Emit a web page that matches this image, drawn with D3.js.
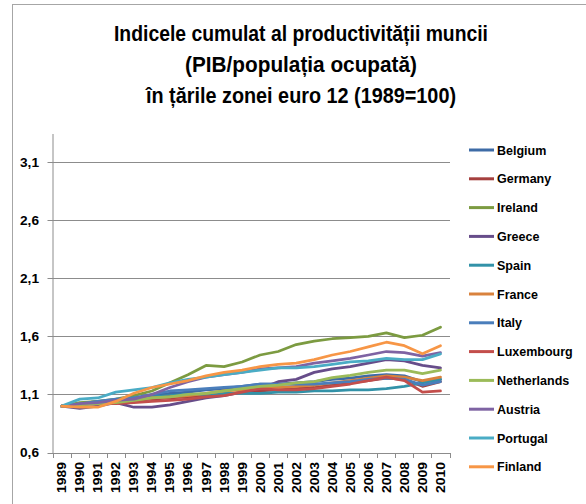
<!doctype html>
<html lang="ro">
<head>
<meta charset="UTF-8">
<title>Indicele cumulat al productivitatii muncii</title>
<style>
  body { margin: 0; background: #fff; }
  svg text { font-family: "Liberation Sans", Arial, sans-serif; font-weight: bold; fill: #000; }
</style>
</head>
<body>
<div class="canvas">
  <svg width="586" height="504"></svg>
</div>
<script src="https://d3js.org/d3.v7.min.js"></script>
<script>
// --- data (1989 = 1) ---
const years = ['1989','1990','1991','1992','1993','1994','1995','1996','1997','1998','1999',
               '2000','2001','2002','2003','2004','2005','2006','2007','2008','2009','2010'];
const yTicks = [0.6, 1.1, 1.6, 2.1, 2.6, 3.1];

const countries = ['Belgium','Germany','Ireland','Greece','Spain','France',
                   'Italy','Luxembourg','Netherlands','Austria','Portugal','Finland'];
const colors = ['#3D6BA6','#A5403E','#7C9B41','#674D8A','#3292A8','#D9823D',
                '#4A7EBB','#C34E4B','#9BBB59','#7E63A3','#4AACC5','#F79646'];

const belgium     = [1.0,1.02,1.04,1.05,1.06,1.09,1.11,1.12,1.14,1.15,1.17,1.19,1.19,1.20,1.21,1.23,1.24,1.26,1.27,1.26,1.21,1.23];
const germany     = [1.0,1.01,1.03,1.04,1.05,1.06,1.07,1.08,1.09,1.10,1.12,1.13,1.14,1.15,1.16,1.18,1.20,1.22,1.24,1.23,1.17,1.21];
const ireland     = [1.0,1.03,1.04,1.06,1.09,1.13,1.20,1.27,1.35,1.34,1.38,1.44,1.47,1.53,1.56,1.58,1.59,1.60,1.63,1.59,1.61,1.68];
const greece      = [1.0,0.98,1.00,1.03,0.99,0.99,1.01,1.04,1.07,1.09,1.12,1.15,1.21,1.23,1.29,1.32,1.34,1.37,1.40,1.39,1.35,1.33];
const spain       = [1.0,1.02,1.03,1.05,1.07,1.08,1.09,1.10,1.10,1.11,1.11,1.11,1.12,1.12,1.13,1.13,1.14,1.14,1.15,1.17,1.20,1.23];
const france      = [1.0,1.02,1.03,1.04,1.05,1.07,1.08,1.09,1.11,1.13,1.14,1.16,1.16,1.17,1.18,1.20,1.22,1.24,1.26,1.25,1.22,1.25];
const italy       = [1.0,1.02,1.04,1.06,1.07,1.10,1.13,1.14,1.15,1.16,1.17,1.19,1.19,1.19,1.19,1.20,1.21,1.23,1.24,1.23,1.18,1.21];
const luxembourg  = [1.0,1.01,1.02,1.02,1.03,1.04,1.05,1.06,1.08,1.09,1.12,1.15,1.14,1.14,1.15,1.17,1.19,1.22,1.25,1.22,1.12,1.13];
const netherlands = [1.0,1.01,1.02,1.03,1.05,1.07,1.08,1.10,1.11,1.13,1.15,1.17,1.18,1.20,1.21,1.245,1.265,1.29,1.31,1.31,1.28,1.31];
const austria     = [1.0,1.02,1.03,1.05,1.06,1.10,1.16,1.21,1.25,1.27,1.29,1.32,1.33,1.34,1.37,1.39,1.41,1.44,1.47,1.46,1.43,1.46];
const portugal    = [1.0,1.06,1.07,1.12,1.14,1.16,1.20,1.23,1.25,1.27,1.29,1.31,1.33,1.33,1.34,1.36,1.38,1.39,1.41,1.40,1.40,1.45];
const finland     = [1.0,0.99,0.99,1.04,1.11,1.16,1.19,1.22,1.26,1.29,1.31,1.34,1.36,1.37,1.40,1.44,1.47,1.51,1.55,1.52,1.45,1.52];

const seriesValues = [belgium, germany, ireland, greece, spain, france,
                      italy, luxembourg, netherlands, austria, portugal, finland];

const svg = d3.select('.canvas svg');

// chart frame
svg.append('rect')
    .attr('x', 12.5).attr('y', 4.5)
    .attr('width', 600).attr('height', 520)
    .attr('fill', '#fff')
    .attr('stroke', '#a6a6a6')
    .attr('stroke-width', 1);

// title
const titleLines = [
    { t: 'Indicele cumulat al productivității muncii', y: 41, w: 374 },
    { t: '(PIB/populația ocupată)', y: 72, w: 232 },
    { t: 'în țările zonei euro 12 (1989=100)', y: 103, w: 310 }
];
svg.append('g').selectAll('text')
    .data(titleLines)
    .join('text')
    .attr('x', 301)
    .attr('y', d => d.y)
    .attr('text-anchor', 'middle')
    .attr('font-size', 21.5)
    .attr('textLength', d => d.w)
    .attr('lengthAdjust', 'spacingAndGlyphs')
    .text(d => d.t);

// scales
const x = d3.scaleBand()
    .domain(years)
    .range([52.7, 449.5]);

const y = d3.scaleLinear()
    .domain([0.6, 3.1])
    .range([452.5, 162.3]);

// gridlines
svg.append('g').selectAll('line')
    .data(yTicks)
    .join('line')
    .attr('x1', 47.5)
    .attr('x2', 450)
    .attr('y1', d => Math.round(y(d)) + 0.5)
    .attr('y2', d => Math.round(y(d)) + 0.5)
    .attr('stroke', '#8c8c8c')
    .attr('stroke-width', 1);

// y axis line
svg.append('line')
    .attr('x1', 53).attr('x2', 53)
    .attr('y1', 134).attr('y2', 453)
    .attr('stroke', '#8c8c8c');

// y labels
svg.append('g').selectAll('text')
    .data(yTicks)
    .join('text')
    .attr('x', 39)
    .attr('y', d => y(d) + 4.5)
    .attr('text-anchor', 'end')
    .attr('font-size', 12)
    .attr('textLength', 19)
    .attr('lengthAdjust', 'spacingAndGlyphs')
    .text(d => d3.format('.1f')(d).replace('.', ','));

// x ticks at category boundaries
const bounds = years.map(v => x(v)).concat([x(years[years.length - 1]) + x.bandwidth()]);
svg.append('g').selectAll('line')
    .data(bounds)
    .join('line')
    .attr('x1', d => Math.round(d) + 0.5)
    .attr('x2', d => Math.round(d) + 0.5)
    .attr('y1', 453)
    .attr('y2', 458)
    .attr('stroke', '#8c8c8c');

// x labels (rotated)
svg.append('g').selectAll('text')
    .data(years)
    .join('text')
    .attr('transform', d => `translate(${x(d) + x.bandwidth() / 2 + 4.5},462) rotate(-90)`)
    .attr('text-anchor', 'end')
    .attr('font-size', 12)
    .attr('textLength', 31)
    .attr('lengthAdjust', 'spacingAndGlyphs')
    .text(d => d);

// series lines
const line = d3.line()
    .x((d, i) => x(years[i]) + x.bandwidth() / 2)
    .y(d => y(d));

svg.append('g').selectAll('path')
    .data(seriesValues)
    .join('path')
    .attr('d', line)
    .attr('fill', 'none')
    .attr('stroke', (d, i) => colors[i])
    .attr('stroke-width', 2.75)
    .attr('stroke-linejoin', 'round')
    .attr('stroke-linecap', 'round');

// legend
const legend = svg.append('g').selectAll('g')
    .data(countries)
    .join('g')
    .attr('transform', (d, i) => `translate(469,${150 + i * 28.8})`);

legend.append('line')
    .attr('x1', 0).attr('x2', 25)
    .attr('stroke', (d, i) => colors[i])
    .attr('stroke-width', 3);

legend.append('text')
    .attr('x', 28)
    .attr('y', 4.5)
    .attr('font-size', 12.5)
    .text(d => d);
</script>
</body>
</html>
